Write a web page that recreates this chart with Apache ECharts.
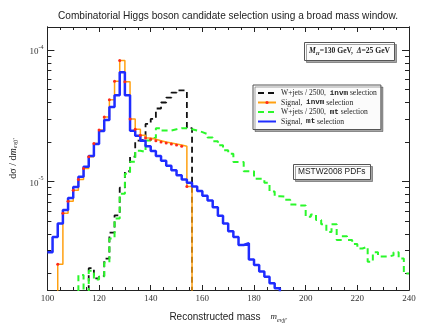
<!DOCTYPE html>
<html>
<head>
<meta charset="utf-8">
<script src="https://cdn.jsdelivr.net/npm/echarts@6/dist/echarts.min.js"></script>
<style>
  html, body { margin: 0; padding: 0; background: #fff; }
  #chart { width: 427px; height: 330px; }
</style>
</head>
<body>
<div id="chart"></div>
<script>
// left edges of the 2 GeV mass bins
const massBins = [
  100, 102, 104, 106, 108, 110, 112, 114, 116, 118,
  120, 122, 124, 126, 128, 130, 132, 134, 136, 138,
  140, 142, 144, 146, 148, 150, 152, 154, 156, 158,
  160, 162, 164, 166, 168, 170, 172, 174, 176, 178,
  180, 182, 184, 186, 188, 190, 192, 194, 196, 198,
  200, 202, 204, 206, 208, 210, 212, 214, 216, 218,
  220, 222, 224, 226, 228, 230, 232, 234, 236, 238
]
const BIN_WIDTH = 2

// null = not drawn, 0 = empty bin (line drops to the bottom of the plot)
const wjetsInvm = [
  null, null, null, null, null, null, null, 0, 2.2e-6, 1.84e-6,
  1.92e-6, 2.6e-6, 4.1e-6, 5.55e-6, 9.0e-6, 1.2e-5, 1.55e-5, 2.05e-5, 2.1e-5, 2.75e-5,
  3.0e-5, 3.6e-5, 4.0e-5, 4.35e-5, 4.75e-5, 4.95e-5, 4.95e-5, 2.55e-5, 0, null
]
const signalInvm = [
  null, 0, 2.35e-6, 5.75e-6, 7.1e-6, 8.6e-6, 1.04e-5, 1.26e-5, 1.55e-5, 1.95e-5,
  2.47e-5, 3.1e-5, 4.2e-5, 5.8e-5, 8.35e-5, 5.75e-5, 3.0e-5, 2.5e-5, 2.25e-5, 2.15e-5,
  2.1e-5, 2.05e-5, 2.0e-5, 1.97e-5, 1.93e-5, 1.9e-5, 1.86e-5, 9.2e-6, 0, null
]
const wjetsMt = [
  null, null, null, null, null, 0, 1.95e-6, 0, 2.1e-6, 1.8e-6,
  1.9e-6, 2.43e-6, 3.7e-6, 5.25e-6, 8.1e-6, 1.15e-5, 1.42e-5, 1.72e-5, 1.68e-5, 2.06e-5,
  2.15e-5, 2.55e-5, 2.45e-5, 2.45e-5, 2.5e-5, 2.55e-5, 2.55e-5, 2.5e-5, 2.45e-5, 2.38e-5,
  2.3e-5, 2.17e-5, 2.03e-5, 1.89e-5, 1.73e-5, 1.63e-5, 1.41e-5, 1.41e-5, 1.2e-5, 1.2e-5,
  1.05e-5, 1.05e-5, 9.8e-6, 8.4e-6, 7.75e-6, 7.7e-6, 7.3e-6, 6.7e-6, 6.6e-6, 6.6e-6,
  5.4e-6, 5.62e-6, 5.1e-6, 4.75e-6, 4.15e-6, 4.75e-6, 3.6e-6, 3.85e-6, 3.6e-6, 3.35e-6,
  3.1e-6, 3.2e-6, 2.46e-6, 2.9e-6, 2.7e-6, 2.7e-6, 2.75e-6, 2.9e-6, 2.6e-6, 2.0e-6
]
const signalMt = [
  2.9e-6, 3.8e-6, 4.8e-6, 6.1e-6, 7.5e-6, 9.1e-6, 1.09e-5, 1.3e-5, 1.57e-5, 1.93e-5,
  2.43e-5, 2.94e-5, 3.7e-5, 4.55e-5, 6.8e-5, 4.55e-5, 2.44e-5, 2.23e-5, 2.05e-5, 1.86e-5,
  1.71e-5, 1.57e-5, 1.44e-5, 1.32e-5, 1.22e-5, 1.12e-5, 1.04e-5, 9.8e-6, 9.2e-6, 8.5e-6,
  7.8e-6, 7.2e-6, 6.4e-6, 5.5e-6, 4.8e-6, 4.2e-6, 3.8e-6, 3.3e-6, 3.4e-6, 2.56e-6,
  2.32e-6, 2.07e-6, 1.89e-6, 1.69e-6, 1.55e-6, 0, null
]

// axis ticks / labels
const xTicks = [100, 120, 140, 160, 180, 200, 220, 240]
const yMajorTicks = [1e-5, 1e-4]
const yMinorTicks = [
  2e-6, 3e-6, 4e-6, 5e-6, 6e-6, 7e-6, 8e-6, 9e-6,
  2e-5, 3e-5, 4e-5, 5e-5, 6e-5, 7e-5, 8e-5, 9e-5
]
const Y_MIN = 1.5e-6
const Y_MAX = 1.5e-4
const FLOOR = 1e-8 // stands for an empty bin, below the plotted range

const names = [
  'W+jets / 2500, invm selection',
  'Signal, invm selection',
  'W+jets / 2500, mt selection',
  'Signal, mt selection'
]

const toSteps = (values) => {
  const pts = []
  let last = -1
  values.forEach((v, i) => {
    if (v === null || v === undefined) return
    pts.push([massBins[i], v === 0 ? FLOOR : v])
    last = i
  })
  if (last >= 0 && values[last] !== 0) {
    pts.push([massBins[last] + BIN_WIDTH, values[last]])
  }
  return pts
}

const SERIF = '"Liberation Serif", "DejaVu Serif", serif'
const SANS = '"Liberation Sans", Arial, sans-serif'
const MONO = '"Liberation Mono", "DejaVu Sans Mono", monospace'

const yLabel = (value) => {
  const e = Math.round(Math.log10(value))
  return '{b|10}{s|' + e + '}'
}

const legendRich = {
  n: { fontFamily: SERIF, fontSize: 7.6, lineHeight: 9, color: '#222' },
  c: { fontFamily: MONO, fontSize: 7.6, lineHeight: 9, fontWeight: 'bold', color: '#222' }
}
const legendText = {
  'W+jets / 2500, invm selection': '{n|W+jets / 2500,  }{c|invm}{n| selection}',
  'Signal, invm selection': '{n|Signal,  }{c|invm}{n| selection}',
  'W+jets / 2500, mt selection': '{n|W+jets / 2500,  }{c|mt}{n| selection}',
  'Signal, mt selection': '{n|Signal,  }{c|mt}{n| selection}'
}

const chart = echarts.init(document.getElementById('chart'), null, { renderer: 'canvas' })

const xAxisBase = {
  type: 'value',
  min: 100,
  max: 240,
  interval: 20,
  axisLine: { show: true, lineStyle: { color: '#222', width: 1 } },
  axisTick: { show: true, inside: true, length: 5, lineStyle: { color: '#222' } },
  minorTick: { show: true, splitNumber: 4, length: 3, lineStyle: { color: '#222' } },
  splitLine: { show: false },
  minorSplitLine: { show: false }
}

const yAxisBase = {
  type: 'log',
  logBase: 10,
  min: Y_MIN,
  max: Y_MAX,
  splitLine: { show: false },
  axisLine: { show: true, lineStyle: { color: '#222', width: 1 } }
}

const option = {
  animation: false,
  backgroundColor: '#fff',
  title: [
    {
      text: 'Combinatorial Higgs boson candidate selection using a broad mass window.',
      left: 53,
      top: 6,
      textStyle: { fontFamily: SANS, fontSize: 10.1, fontWeight: 'normal', color: '#222' }
    },
    {
      text: '{i|M}{u|H}{n|=130 GeV,  }{i|Δ}{n|=25 GeV}',
      left: 304,
      top: 42,
      padding: [5, 5, 5, 5],
      borderColor: '#555',
      borderWidth: 1,
      backgroundColor: '#fcfcfc',
      shadowColor: 'rgba(0,0,0,0.35)',
      shadowOffsetX: 2,
      shadowOffsetY: 2,
      textStyle: {
        rich: {
          i: { fontFamily: SERIF, fontStyle: 'italic', fontSize: 7.6, color: '#222' },
          u: { fontFamily: SERIF, fontStyle: 'italic', fontSize: 5, color: '#222', verticalAlign: 'bottom', padding: [4, 0, 0, 0] },
          n: { fontFamily: SERIF, fontSize: 7.6, color: '#222' }
        }
      }
    },
    {
      text: 'MSTW2008 PDFs',
      left: 293,
      top: 164,
      padding: [4, 5, 4, 5],
      borderColor: '#555',
      borderWidth: 1,
      backgroundColor: '#fcfcfc',
      shadowColor: 'rgba(0,0,0,0.35)',
      shadowOffsetX: 2,
      shadowOffsetY: 2,
      textStyle: { fontFamily: SANS, fontSize: 8.4, fontWeight: 'normal', color: '#222' }
    }
  ],
  legend: {
    // itemStyle opacity 0 hides the marker dot on the plain line icons
    data: [
      { name: names[0], itemStyle: { opacity: 0 } },
      { name: names[1] },
      { name: names[2], itemStyle: { opacity: 0 } },
      { name: names[3], itemStyle: { opacity: 0 } }
    ],
    orient: 'vertical',
    left: 253,
    top: 85,
    itemWidth: 18,
    itemHeight: 4,
    itemGap: 1.5,
    padding: [4, 4, 4, 4],
    backgroundColor: '#fbfbfb',
    borderColor: '#555',
    borderWidth: 1,
    shadowColor: 'rgba(0,0,0,0.35)',
    shadowOffsetX: 2,
    shadowOffsetY: 2,
    formatter: (name) => legendText[name],
    textStyle: { rich: legendRich }
  },
  grid: {
    left: 46,
    right: 18,
    top: 27,
    bottom: 40
  },
  xAxis: [
    Object.assign({}, xAxisBase, {
      position: 'bottom',
      name: '{t|Reconstructed mass}   {m|m}{u|eνjj\'}',
      nameLocation: 'middle',
      nameGap: 21,
      nameTextStyle: {
        rich: {
          t: { fontFamily: SANS, fontSize: 10, color: '#222' },
          m: { fontFamily: SERIF, fontStyle: 'italic', fontSize: 9, color: '#222' },
          u: { fontFamily: SERIF, fontStyle: 'italic', fontSize: 6, color: '#222', verticalAlign: 'bottom', padding: [5, 0, 0, 0] }
        }
      },
      axisLabel: {
        customValues: xTicks,
        fontFamily: SERIF,
        fontSize: 9,
        color: '#333',
        margin: 4
      }
    }),
    Object.assign({}, xAxisBase, {
      position: 'top',
      axisLabel: { show: false }
    })
  ],
  yAxis: [
    Object.assign({}, yAxisBase, {
      position: 'left',
      name: '{n|dσ / d}{m|m}{u|eνjj\'}',
      nameLocation: 'middle',
      nameGap: 24,
      nameTextStyle: {
        rich: {
          n: { fontFamily: SERIF, fontSize: 10, color: '#222' },
          m: { fontFamily: SERIF, fontStyle: 'italic', fontSize: 10, color: '#222' },
          u: { fontFamily: SERIF, fontStyle: 'italic', fontSize: 6, color: '#222', verticalAlign: 'bottom', padding: [5, 0, 0, 0] }
        }
      },
      axisTick: { show: true, inside: true, length: 7, customValues: yMajorTicks, lineStyle: { color: '#222' } },
      axisLabel: {
        customValues: yMajorTicks,
        formatter: yLabel,
        margin: 4,
        rich: {
          b: { fontFamily: SERIF, fontSize: 9, color: '#333', verticalAlign: 'bottom', lineHeight: 12 },
          s: { fontFamily: SERIF, fontSize: 6, color: '#333', verticalAlign: 'top', lineHeight: 12 }
        }
      }
    }),
    Object.assign({}, yAxisBase, {
      position: 'left',
      axisTick: { show: true, inside: true, length: 4, customValues: yMinorTicks, lineStyle: { color: '#222' } },
      axisLabel: { show: false }
    }),
    Object.assign({}, yAxisBase, {
      position: 'right',
      axisTick: { show: true, inside: true, length: 7, customValues: yMajorTicks, lineStyle: { color: '#222' } },
      axisLabel: { show: false }
    }),
    Object.assign({}, yAxisBase, {
      position: 'right',
      axisTick: { show: true, inside: true, length: 4, customValues: yMinorTicks, lineStyle: { color: '#222' } },
      axisLabel: { show: false }
    })
  ],
  series: [
    {
      name: names[0],
      type: 'line',
      step: 'end',
      symbol: 'none',
      clip: true,
      itemStyle: { color: '#111' },
      lineStyle: { color: '#111', width: 1.8, type: [6, 4] },
      data: toSteps(wjetsInvm)
    },
    {
      name: names[2],
      type: 'line',
      step: 'end',
      symbol: 'none',
      clip: true,
      itemStyle: { color: '#2bf72b' },
      lineStyle: { color: '#2bf72b', width: 2, type: [6, 4] },
      data: toSteps(wjetsMt)
    },
    {
      name: names[1],
      type: 'line',
      step: 'end',
      symbol: 'circle',
      symbolSize: 3,
      showSymbol: true,
      clip: true,
      itemStyle: { color: '#ff2a1a' },
      lineStyle: { color: '#ffa010', width: 1.5 },
      data: toSteps(signalInvm)
    },
    {
      name: names[3],
      type: 'line',
      step: 'end',
      symbol: 'none',
      clip: true,
      itemStyle: { color: '#1f2cff' },
      lineStyle: { color: '#1f2cff', width: 2.5 },
      data: toSteps(signalMt)
    }
  ]
}

chart.setOption(option)

window.addEventListener('resize', () => {
  chart.resize()
})
</script>
</body>
</html>
